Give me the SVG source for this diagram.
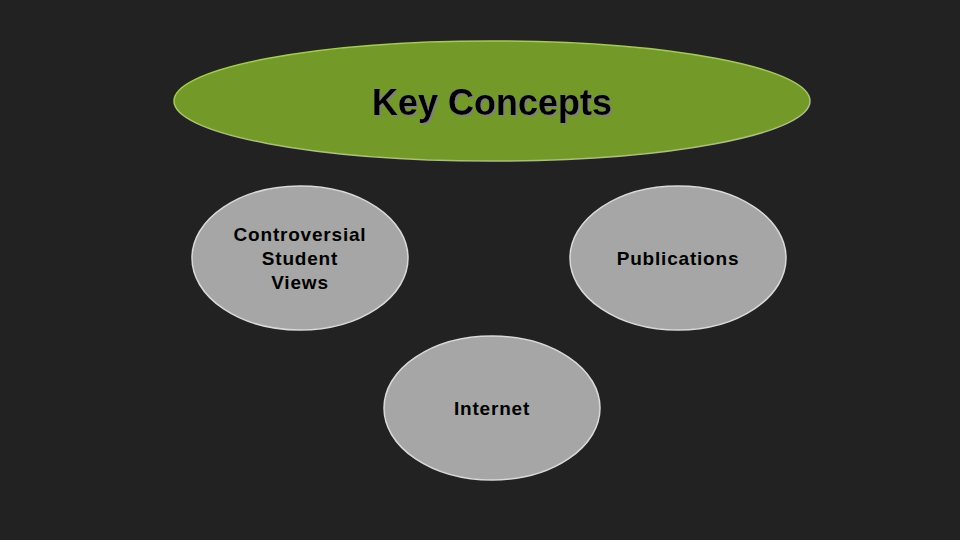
<svg xmlns="http://www.w3.org/2000/svg" width="960" height="540" viewBox="0 0 960 540">
<defs>
<filter id="sh" x="-10%" y="-20%" width="120%" height="150%">
<feOffset in="SourceAlpha" dx="2" dy="2" result="o"/>
<feFlood flood-color="#7f7f7f"/>
<feComposite in2="o" operator="in" result="s"/>
<feMerge><feMergeNode in="s"/><feMergeNode in="SourceGraphic"/></feMerge>
</filter>
</defs>
<style>
.n{fill:#a6a6a6;stroke:#d9d9d9;stroke-width:1.5}
.t{font-family:"Liberation Sans",Arial,sans-serif;font-weight:bold;font-size:19px;letter-spacing:0.8px;fill:#000;text-anchor:middle}
</style>
<rect width="960" height="540" fill="#222222"/>
<g id="title">
<ellipse cx="492" cy="101" rx="318" ry="60" fill="#739a28" stroke="#a9c46a" stroke-width="1.5"/>
<text x="492" y="115" filter="url(#sh)" font-family="Liberation Sans,Arial,sans-serif" font-weight="bold" font-size="36" fill="#000" text-anchor="middle">Key Concepts</text>
</g>
<g id="connectors"></g>
<g id="n1"><ellipse class="n" cx="300" cy="258" rx="108" ry="72"/>
<text class="t" x="300" y="241">Controversial</text><text class="t" x="300" y="265">Student</text><text class="t" x="300" y="289">Views</text></g>
<g id="n2"><ellipse class="n" cx="678" cy="258" rx="108" ry="72"/>
<text class="t" x="678" y="265">Publications</text></g>
<g id="n3"><ellipse class="n" cx="492" cy="408" rx="108" ry="72"/>
<text class="t" x="492" y="415">Internet</text></g>
</svg>
